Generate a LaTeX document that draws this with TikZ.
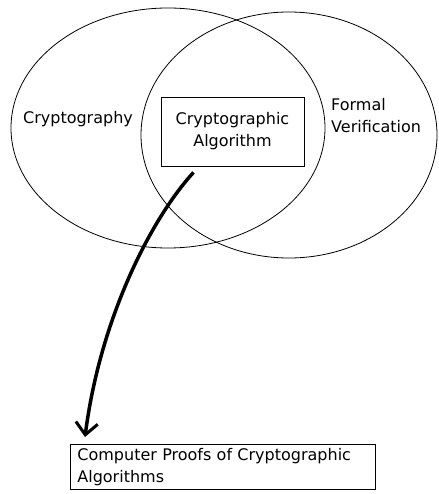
\documentclass[tikz,border=0pt]{standalone}
\usepackage{fontspec}
\setmainfont{DejaVu Sans}
\usetikzlibrary{arrows.meta,calc,positioning}

\begin{document}
\begin{tikzpicture}[x=1pt,y=-1pt,font=\fontsize{16}{22}\selectfont,
  set/.style={line width=.8pt},
  box/.style={draw,line width=.8pt,inner sep=0pt},
  link/.style={line width=3.5pt,-{Straight Barb[length=12pt,width=22pt,line width=3pt]}}]
 \useasboundingbox(0,0)rectangle(438,494);
 % the two fields
 \draw[set](168,128)ellipse[x radius=157,y radius=120];
 \draw[set](289,135)ellipse[x radius=148,y radius=123];
 \node(crypto)at(78,119){Cryptography};
 \node[anchor=north west,align=left,inner sep=0pt](formal)at(331,98){Formal\\Verification};
 \node[box,align=center,minimum width=143pt,minimum height=69pt](alg)at(232.5,131.5){Cryptographic\\Algorithm};
 \node[box,anchor=north west,align=left,text width=291pt,inner xsep=7pt,inner ysep=4pt](proofs)at(70,444){Computer Proofs of Cryptographic\\Algorithms};
 \draw[link]([xshift=-39pt,yshift=-6pt]alg.south)..controls(150,220)and(100,320)..([xshift=15pt,yshift=7pt]proofs.north west);
\end{tikzpicture}
\end{document}
